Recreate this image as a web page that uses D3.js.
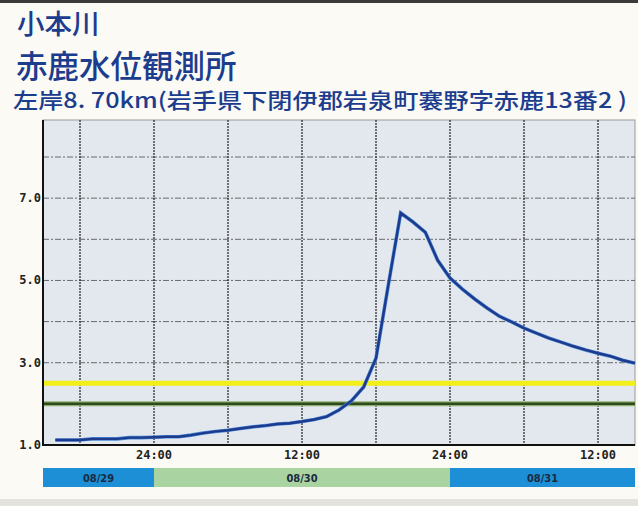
<!DOCTYPE html>
<html>
<head>
<meta charset="utf-8">
<script src="https://cdn.jsdelivr.net/npm/d3@7"></script>
<style>
  body { margin: 0; background: #fbfaf4; }
  svg { display: block; }
  .title { fill: #1c3c8e; font-family: "Noto Sans CJK JP", sans-serif; font-weight: 500; }
  .tick-label { font-family: "DejaVu Sans Mono", monospace; font-weight: bold; font-size: 12px; fill: #222; }
  .day-label { font-family: "DejaVu Sans Condensed", "DejaVu Sans", sans-serif; font-weight: bold; font-size: 11px; fill: #1b2a40; }
</style>
</head>
<body>
<div id="chart"></div>
<script>
// 観測時刻 (1時間毎)
const times = [
  "08/29 16:00","08/29 17:00","08/29 18:00","08/29 19:00","08/29 20:00","08/29 21:00","08/29 22:00","08/29 23:00",
  "08/30 00:00","08/30 01:00","08/30 02:00","08/30 03:00","08/30 04:00","08/30 05:00","08/30 06:00","08/30 07:00",
  "08/30 08:00","08/30 09:00","08/30 10:00","08/30 11:00","08/30 12:00","08/30 13:00","08/30 14:00","08/30 15:00",
  "08/30 16:00","08/30 17:00","08/30 18:00","08/30 19:00","08/30 20:00","08/30 21:00","08/30 22:00","08/30 23:00",
  "08/31 00:00","08/31 01:00","08/31 02:00","08/31 03:00","08/31 04:00","08/31 05:00","08/31 06:00","08/31 07:00",
  "08/31 08:00","08/31 09:00","08/31 10:00","08/31 11:00","08/31 12:00","08/31 13:00","08/31 14:00","08/31 15:00"
];
// 水位 (m)
const levels = [
  1.12, 1.12, 1.12, 1.15, 1.15, 1.15, 1.18, 1.18,
  1.19, 1.20, 1.20, 1.24, 1.29, 1.33, 1.36, 1.40,
  1.44, 1.47, 1.51, 1.53, 1.57, 1.62, 1.69, 1.85,
  2.07, 2.41, 3.11, 4.89, 6.64, 6.42, 6.17, 5.49,
  5.06, 4.79, 4.55, 4.33, 4.13, 3.99, 3.84, 3.72,
  3.60, 3.50, 3.40, 3.31, 3.23, 3.16, 3.06, 2.99
];
const timeRange = ["08/29 15:00", "08/31 15:00"];
const gridTimes = ["08/29 18:00","08/30 00:00","08/30 06:00","08/30 12:00","08/30 18:00","08/31 00:00","08/31 06:00","08/31 12:00"];
const hourTicks = ["08/30 00:00","08/30 12:00","08/31 00:00","08/31 12:00"];
const hourLabels = ["24:00","12:00","24:00","12:00"];
const yLabelTicks = [1, 3, 5, 7];
const yGridTicks = [2, 3, 4, 5, 6, 7, 8];
const refLevels = [2.5, 2.0];   // 黄線, 緑線
const days = ["08/29", "08/30", "08/31"];
const dayStart = ["08/29 15:00", "08/30 00:00", "08/31 00:00"];
const dayEnd = ["08/30 00:00", "08/31 00:00", "08/31 15:00"];

const W = 638, H = 506;
const parse = d3.timeParse("%Y/%m/%d %H:%M");
const pt = s => parse("2016/" + s);

const svg = d3.select("#chart").append("svg").attr("width", W).attr("height", H);

// 枠 (スキャンっぽい上端と下端)
svg.append("rect").attr("x", 0).attr("y", 0).attr("width", W).attr("height", 3).attr("fill", "#3a3a3a");
svg.append("rect").attr("x", 0).attr("y", 499).attr("width", W).attr("height", 7).attr("fill", "#e4e2dc");

// タイトル
svg.append("text").attr("class", "title").attr("x", 17).attr("y", 34).attr("font-size", 27.5).text("小本川");
svg.append("text").attr("class", "title").attr("x", 16).attr("y", 78).attr("font-size", 31.5).text("赤鹿水位観測所");
svg.append("text").attr("class", "title").attr("x", 13).attr("y", 108).attr("font-size", 21)
   .attr("textLength", 614).attr("lengthAdjust", "spacingAndGlyphs")
   .text("左岸8. 70km(岩手県下閉伊郡岩泉町褰野字赤鹿13番2 )");

const pl = 43, pr = 635, pTop = 120, pBot = 445;
const x = d3.scaleTime().domain(timeRange.map(pt)).range([pl, pr]);
const y = d3.scaleLinear().domain([1, 8.9]).range([pBot, pTop]);

// 背景
svg.append("rect").attr("x", pl).attr("y", pTop).attr("width", pr - pl).attr("height", pBot - pTop)
   .attr("fill", "#e3e7ee").attr("stroke", "#9a9a9a").attr("stroke-width", 1);

// グリッド
svg.append("g").selectAll("line").data(yGridTicks).enter().append("line")
   .attr("x1", pl).attr("x2", pr)
   .attr("y1", d => y(d)).attr("y2", d => y(d))
   .attr("stroke", "#6a6a6a").attr("stroke-width", 1).attr("stroke-dasharray", "6,2,2,2");
svg.append("g").selectAll("line").data(gridTimes).enter().append("line")
   .attr("x1", d => x(pt(d))).attr("x2", d => x(pt(d)))
   .attr("y1", pTop).attr("y2", pBot)
   .attr("stroke", "#222").attr("stroke-width", 1.2).attr("stroke-dasharray", "2,1");

// 基準水位線
svg.append("line").attr("x1", pl).attr("x2", pr).attr("y1", y(refLevels[1])).attr("y2", y(refLevels[1]))
   .attr("stroke", "#8fb070").attr("stroke-width", 5);
svg.append("line").attr("x1", pl).attr("x2", pr).attr("y1", y(refLevels[1])).attr("y2", y(refLevels[1]))
   .attr("stroke", "#2f4a1c").attr("stroke-width", 2.5);
svg.append("line").attr("x1", pl).attr("x2", pr).attr("y1", y(refLevels[0])).attr("y2", y(refLevels[0]))
   .attr("stroke", "#f2ee1a").attr("stroke-width", 5);

// 水位線
const series = times.map((t, i) => ({ t: pt(t), v: levels[i] }));
svg.append("path").datum(series)
   .attr("fill", "none").attr("stroke", "#4a8ad8").attr("stroke-width", 3.6)
   .attr("d", d3.line().x(d => x(d.t)).y(d => y(d.v)));
svg.append("path").datum(series)
   .attr("fill", "none").attr("stroke", "#1d3a8c").attr("stroke-width", 2.4)
   .attr("d", d3.line().x(d => x(d.t)).y(d => y(d.v)));

// 軸線
svg.append("line").attr("x1", pl).attr("x2", pl).attr("y1", pTop).attr("y2", pBot + 1)
   .attr("stroke", "#111").attr("stroke-width", 2);
svg.append("line").attr("x1", pl).attr("x2", pr).attr("y1", pBot).attr("y2", pBot)
   .attr("stroke", "#111").attr("stroke-width", 2);

// 目盛りラベル
svg.append("g").selectAll("text").data(yLabelTicks).enter().append("text")
   .attr("class", "tick-label").attr("x", pl - 2).attr("y", d => y(d) + 4)
   .attr("text-anchor", "end").text(d => d3.format(".1f")(d));
svg.append("g").selectAll("text").data(hourTicks).enter().append("text")
   .attr("class", "tick-label").attr("x", d => x(pt(d))).attr("y", 459)
   .attr("text-anchor", "middle").text((d, i) => hourLabels[i]);

// 日付バー
const dayColor = ["#1c8fd6", "#a9d3a1", "#1c8fd6"];
const bars = svg.append("g").selectAll("g").data(days).enter().append("g");
bars.append("rect")
   .attr("x", (d, i) => x(pt(dayStart[i])))
   .attr("width", (d, i) => x(pt(dayEnd[i])) - x(pt(dayStart[i])))
   .attr("y", 468).attr("height", 19)
   .attr("fill", (d, i) => dayColor[i]);
bars.append("text").attr("class", "day-label")
   .attr("x", (d, i) => (x(pt(dayStart[i])) + x(pt(dayEnd[i]))) / 2)
   .attr("y", 482).attr("text-anchor", "middle").text(d => d);
</script>
</body>
</html>
